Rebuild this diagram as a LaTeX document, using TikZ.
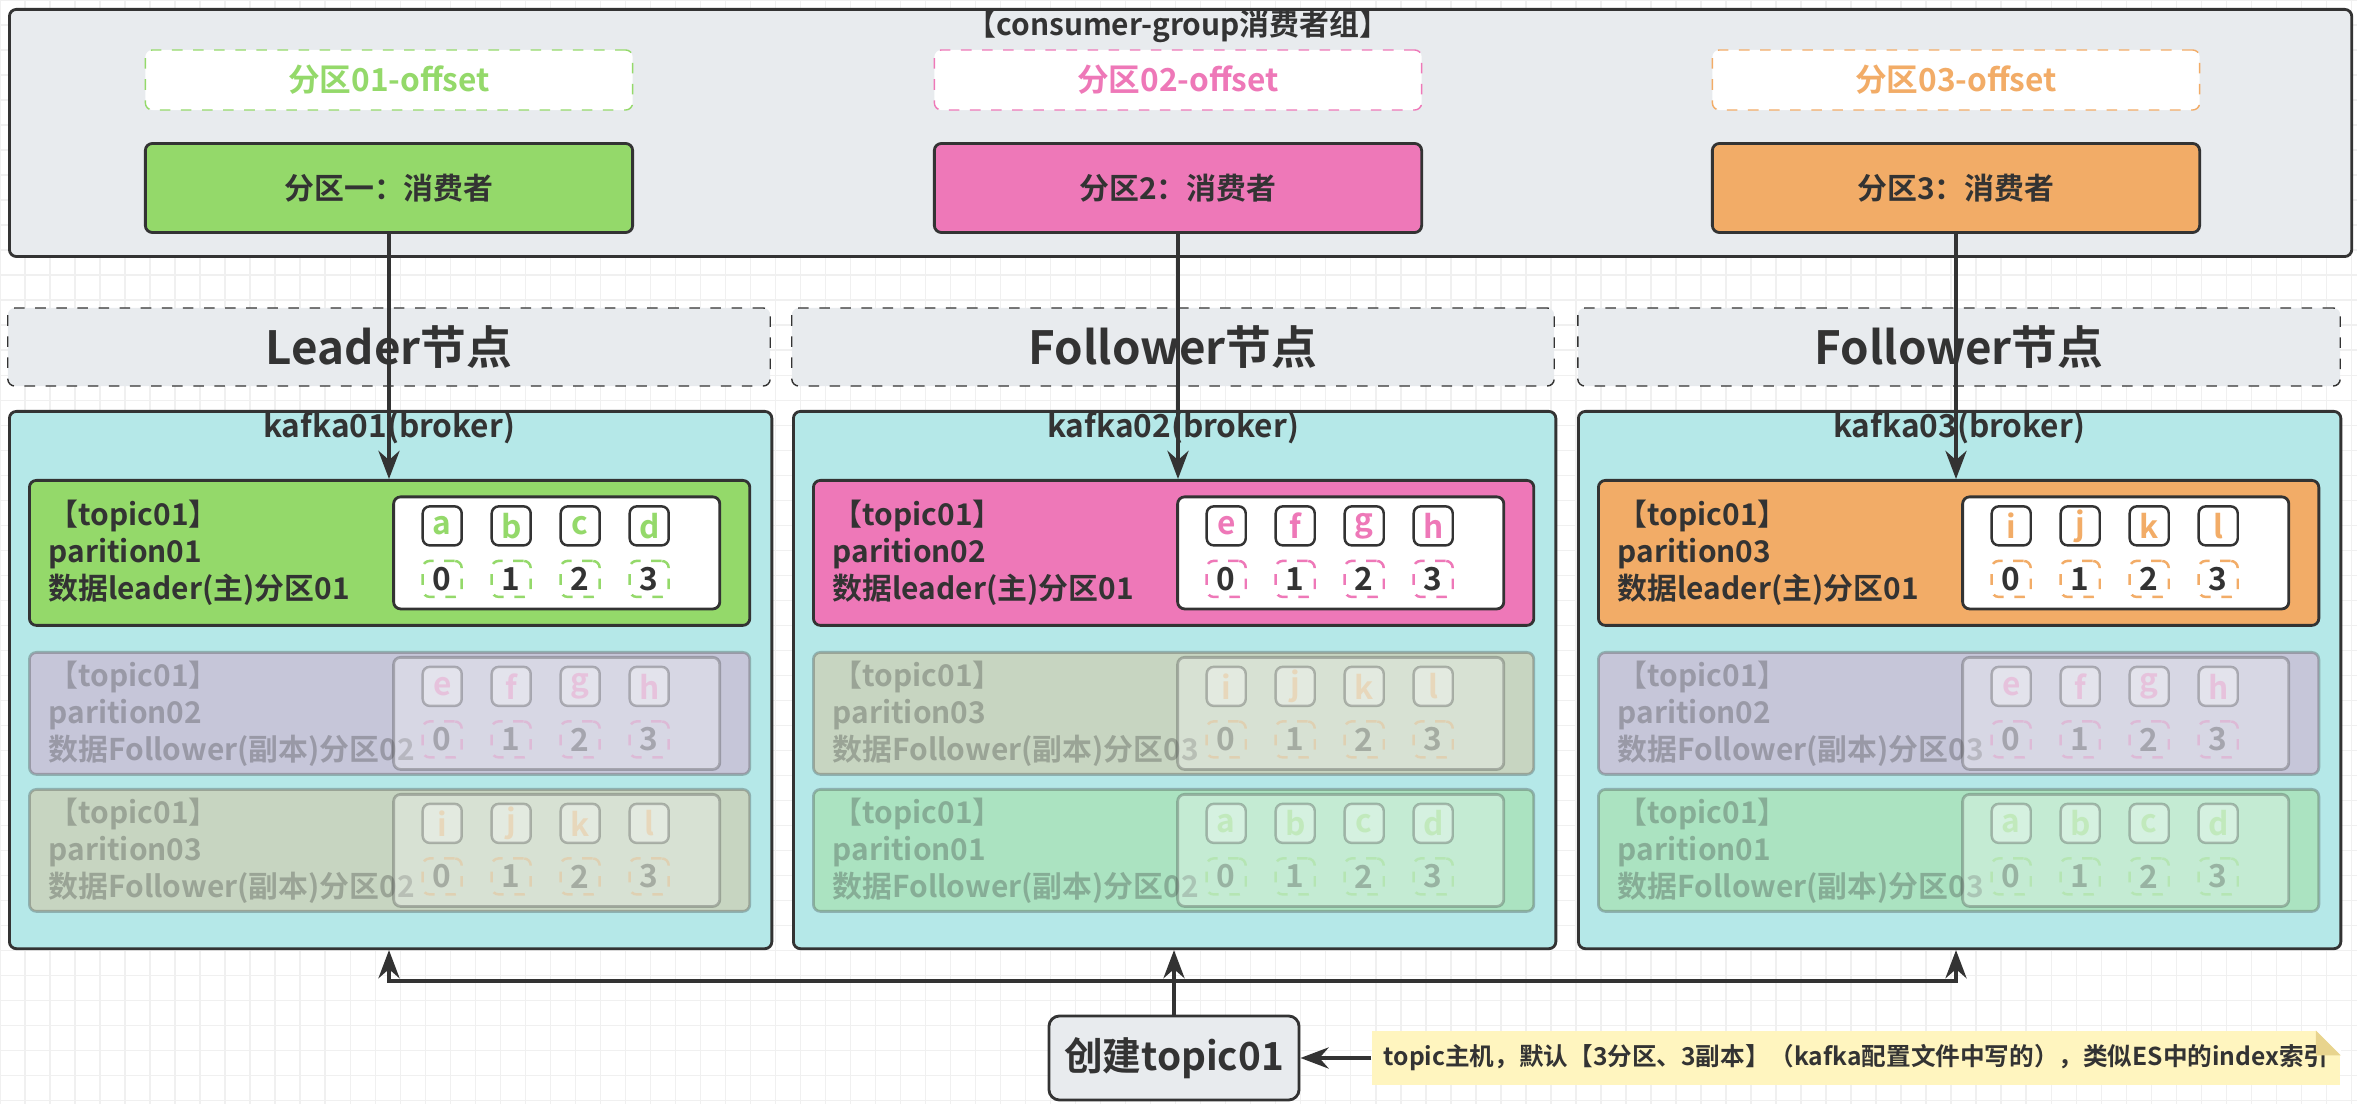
\documentclass[tikz,border=0pt]{standalone}
\usepackage{fontspec}
\setmainfont{Noto Sans CJK SC}[BoldFont={Noto Sans CJK SC Bold}]
\usetikzlibrary{positioning}
\usetikzlibrary{arrows.meta}

\definecolor{grpgray}{HTML}{E8EBEE}
\definecolor{cgreen}{HTML}{94D96A}
\definecolor{cpink}{HTML}{EE78B8}
\definecolor{corange}{HTML}{F2AC67}
\definecolor{broker}{HTML}{B5E8E8}
\definecolor{ink}{HTML}{333333}
\definecolor{notey}{HTML}{FFF5BF}
\definecolor{notefold}{HTML}{E8D48E}

% one partition row: name, left, top, height, colour, opacity, number, last line, letters
\newcommand\partrow[9]{%
    \begin{scope}[opacity=#6]
        \node[part, fill=#5, minimum height={#4*0.01cm}, anchor=north west] (#1) at (#2,#3) {};
        \node[ptext, anchor=west] (#1-txt) at ([xshift=0.2cm]#1.west) {【topic01】\\parition0#7\\#8};
        \node[arr, anchor=east] (#1-arr) at ([xshift=-0.3cm]#1.east) {};
        \foreach \l [count=\i, evaluate=\i as \n using int(\i-1)] in {#9} {
            \node[cell, text=#5] (#1-l\i) at ([xshift={(50+(\i-1)*69)*0.01cm}, yshift=0.27cm]#1-arr.west) {\l};
            \node[idx, draw=#5] (#1-n\i) at ([xshift={(50+(\i-1)*69)*0.01cm}, yshift=-0.26cm]#1-arr.west) {\n};
        }
    \end{scope}}

\begin{document}
\begin{tikzpicture}[x=0.01cm, y=-0.01cm,
        font=\bfseries,
        every node/.style = {text=ink},
        grp/.style = {draw=ink, fill=grpgray, rounded corners=2pt, line width=0.8pt},
        offset/.style = {draw=#1, dashed, fill=white, text=#1, rounded corners=2pt,
            minimum width=4.87cm, minimum height=0.6cm, font=\bfseries\fontsize{9}{10}\selectfont},
        consumer/.style = {draw=ink, fill=#1, rounded corners=2pt, line width=0.8pt,
            minimum width=4.87cm, minimum height=0.89cm, font=\bfseries\fontsize{8.5}{10}\selectfont},
        role/.style = {draw=ink, dashed, fill=grpgray, rounded corners=2pt,
            minimum width=7.62cm, minimum height=0.78cm, font=\bfseries\fontsize{13}{15}\selectfont},
        brk/.style = {draw=ink, fill=broker, rounded corners=2pt, line width=0.8pt,
            minimum width=7.62cm, minimum height=5.37cm},
        part/.style = {draw=ink, rounded corners=2pt, line width=0.8pt, minimum width=7.2cm},
        ptext/.style = {align=left, inner sep=0pt, font=\bfseries\fontsize{8.5}{10.5}\selectfont},
        arr/.style = {draw=ink, fill=white, rounded corners=2pt, line width=0.8pt,
            minimum width=3.26cm, minimum height=1.12cm},
        cell/.style = {draw=ink, fill=white, rounded corners=2pt, line width=0.7pt,
            minimum width=0.39cm, minimum height=0.39cm, inner sep=0pt, font=\bfseries\fontsize{9}{10}\selectfont},
        idx/.style = {dashed, rounded corners=2pt, line width=0.7pt, text=ink,
            minimum width=0.39cm, minimum height=0.36cm, inner sep=0pt, font=\bfseries\fontsize{9}{10}\selectfont},
        link/.style = {draw=ink, line width=1.1pt, -{Stealth[length=8pt,width=6pt]}}]
    \useasboundingbox (0,0) rectangle (2357,1104);
    \draw[black!6, step=0.25cm] (0,0) grid (2357,1104);

    % consumer group
    \node[grp, minimum width=23.41cm, minimum height=2.47cm, anchor=north west] (group) at (8,8) {};
    \node[font=\bfseries\fontsize{8.5}{10}\selectfont] (gtitle) at (1178,26) {【consumer-group消费者组】};
    \node[offset=cgreen] (off1) at (389,80) {分区01-offset};
    \node[offset=cpink] (off2) at (1178,80) {分区02-offset};
    \node[offset=corange] (off3) at (1956,80) {分区03-offset};
    \node[consumer=cgreen] (con1) at (389,188) {分区一：消费者};
    \node[consumer=cpink] (con2) at (1178,188) {分区2：消费者};
    \node[consumer=corange] (con3) at (1956,188) {分区3：消费者};

    % roles
    \node[role] (role1) at (389,347) {Leader节点};
    \node[role] (role2) at (1173,347) {Follower节点};
    \node[role] (role3) at (1959,347) {Follower节点};

    % brokers
    \node[brk, anchor=north west] (kafka1) at (8,410) {};
    \node[brk, anchor=north west] (kafka2) at (792,410) {};
    \node[brk, anchor=north west] (kafka3) at (1577,410) {};
    \node[font=\bfseries\fontsize{9}{10}\selectfont] at (389,428) {kafka01(broker)};
    \node[font=\bfseries\fontsize{9}{10}\selectfont] at (1173,428) {kafka02(broker)};
    \node[font=\bfseries\fontsize{9}{10}\selectfont] at (1959,428) {kafka03(broker)};

    \partrow{k1p1}{28}{479}{145}{cgreen}{1}{1}{数据leader(主)分区01}{a,b,c,d}
    \partrow{k1p2}{28}{651}{122}{cpink}{0.3}{2}{数据Follower(副本)分区02}{e,f,g,h}
    \partrow{k1p3}{28}{788}{122}{corange}{0.3}{3}{数据Follower(副本)分区02}{i,j,k,l}
    \partrow{k2p1}{812}{479}{145}{cpink}{1}{2}{数据leader(主)分区01}{e,f,g,h}
    \partrow{k2p2}{812}{651}{122}{corange}{0.3}{3}{数据Follower(副本)分区03}{i,j,k,l}
    \partrow{k2p3}{812}{788}{122}{cgreen}{0.3}{1}{数据Follower(副本)分区02}{a,b,c,d}
    \partrow{k3p1}{1597}{479}{145}{corange}{1}{3}{数据leader(主)分区01}{i,j,k,l}
    \partrow{k3p2}{1597}{651}{122}{cpink}{0.3}{2}{数据Follower(副本)分区03}{e,f,g,h}
    \partrow{k3p3}{1597}{788}{122}{cgreen}{0.3}{1}{数据Follower(副本)分区03}{a,b,c,d}

    % consumers read the leaders
    \draw[link] (con1.south) -- (con1.south |- k1p1.north);
    \draw[link] (con2.south) -- (con2.south |- k2p1.north);
    \draw[link] (con3.south) -- (con3.south |- k3p1.north);

    % create topic
    \node[draw=ink, fill=grpgray, rounded corners=3pt, line width=0.8pt, minimum width=2.5cm,
        minimum height=0.84cm, font=\bfseries\fontsize{11}{12}\selectfont] (create) at (1174,1058) {创建topic01};
    \coordinate (split) at (1174,981);
    \draw[link] (create.north) -- (create.north |- kafka2.south);
    \draw[link] (split) -| (con1.south |- kafka1.south);
    \draw[link] (split) -| (con3.south |- kafka3.south);

    \node[fill=notey, minimum width=9.47cm, minimum height=0.54cm, font=\bfseries\fontsize{7}{8}\selectfont]
        (note) at (1856,1058) {topic主机，默认【3分区、3副本】（kafka配置文件中写的），类似ES中的index索引};
    \fill[white] ([xshift=-0.25cm]note.north east) -- (note.north east) -- ([yshift=-0.25cm]note.north east) -- cycle;
    \fill[notefold] ([xshift=-0.25cm]note.north east) -- ([xshift=-0.25cm,yshift=-0.25cm]note.north east) -- ([yshift=-0.25cm]note.north east) -- cycle;
    \draw[link] (note.west) -- (create.east);
\end{tikzpicture}
\end{document}
